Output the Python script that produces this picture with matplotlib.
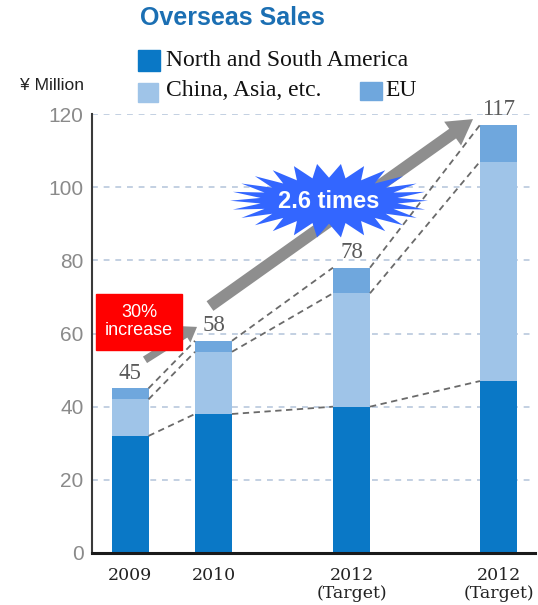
import matplotlib

matplotlib.use("Agg")

import matplotlib.pyplot as plt
import numpy as np
from matplotlib.patches import Polygon, Rectangle
from matplotlib.transforms import Affine2D, ScaledTranslation

# data (¥ million)
years = ["2009", "2010", "2012\n(Target)", "2012\n(Target)"]
americas = [32, 38, 40, 47]
china_asia = [10, 17, 31, 60]
eu = [3, 3, 7, 10]
totals = [45, 58, 78, 117]

series_names = ["North and South America", "China, Asia, etc.", "EU"]
colors = ["#0a78c6", "#9fc4e8", "#6fa7dd"]

# layout (x in pixels from the y-axis spine)
bar_pos = [38, 121.5, 259.5, 406.5]
bar_w = 37

fig = plt.figure(figsize=(5.38, 6.05), dpi=100)
ax = fig.add_axes([92 / 538, 52 / 605, 443 / 538, 439 / 605])
ax.set_xlim(0, 443)
ax.set_ylim(0, 120)

am = np.array(americas)
ca = np.array(china_asia)
e = np.array(eu)
ax.bar(bar_pos, am, bar_w, color=colors[0], zorder=2)
ax.bar(bar_pos, ca, bar_w, bottom=am, color=colors[1], zorder=2)
ax.bar(bar_pos, e, bar_w, bottom=am + ca, color=colors[2], zorder=2)

# dashed connectors between bar segment tops
levels = [am, am + ca, am + ca + e]
for lv in levels:
    for i in range(len(bar_pos) - 1):
        ax.plot([bar_pos[i] + bar_w / 2, bar_pos[i + 1] - bar_w / 2], [lv[i], lv[i + 1]],
                color="#6a6a6a", lw=1.3, ls=(0, (3.5, 2.5)), zorder=4)

for x, t in zip(bar_pos, totals):
    ax.annotate(str(t), (x, t), xytext=(0, 3.5), textcoords="offset points",
                ha="center", va="bottom", fontsize=16.5, color="#5a5a5a",
                family="Liberation Serif", zorder=5)

ax.set_yticks(range(0, 121, 20))
ax.set_xticks(bar_pos)
ax.set_xticklabels(years, family="DejaVu Serif", fontsize=12.5, linespacing=1.05,
                   color="#222222")
ax.tick_params(axis="x", length=0, pad=10)
ax.tick_params(axis="y", length=0, pad=6, labelsize=15, labelcolor="#8a8a8a")
for lab in ax.get_yticklabels():
    lab.set_family("Liberation Sans")
ax.yaxis.grid(True, color="#c3d0e2", lw=1.4, ls=(0, (3, 3)), zorder=0)
ax.set_axisbelow(True)
for s in ["top", "right"]:
    ax.spines[s].set_visible(False)
ax.spines["left"].set_color("#3a3a3a")
ax.spines["left"].set_linewidth(1.5)
ax.spines["bottom"].set_color("#1a1a1a")
ax.spines["bottom"].set_linewidth(2.2)
ax.spines["bottom"].set_zorder(3)

# gray growth arrows
ax.annotate("", xy=(105, 61.8), xytext=(53, 52.8),
            arrowprops=dict(arrowstyle="simple,head_length=1.0,head_width=1.4,tail_width=0.55",
                            mutation_scale=10, shrinkA=0, shrinkB=0, fc="#8e8e8e", ec="none"),
            zorder=3)
ax.annotate("", xy=(381, 118.6), xytext=(118, 67.5),
            arrowprops=dict(arrowstyle="simple,head_length=1.8,head_width=2.1,tail_width=0.85",
                            mutation_scale=10, shrinkA=0, shrinkB=0, fc="#8e8e8e", ec="none"),
            zorder=3)

# red "30% increase" box
ax.add_patch(Rectangle((4, 55.5), 86, 15.3, color="#ff0000", zorder=6, clip_on=False))
ax.text(47, 63.2, "30%\nincrease", ha="center", va="center", color="white",
        fontsize=13, family="Liberation Sans", linespacing=1.1, zorder=7)

# starburst "2.6 times"
n_spikes = 26
ang = np.linspace(0, 2 * np.pi, 2 * n_spikes, endpoint=False)
rx = np.where(np.arange(2 * n_spikes) % 2 == 0, 99, 69)
ry = np.where(np.arange(2 * n_spikes) % 2 == 0, 37, 23)
star_xy = np.column_stack([rx * np.cos(ang), ry * np.sin(ang)]) * 0.72
star_tr = Affine2D().scale(fig.dpi / 72) + ScaledTranslation(237, 96.3, ax.transData)
ax.add_patch(Polygon(star_xy, closed=True, fc="#3366ff", ec="none", transform=star_tr,
                     zorder=8, clip_on=False))
ax.text(237, 96.0, "2.6 times", ha="center", va="center", color="white", fontsize=17,
        fontweight="bold", family="Liberation Sans", zorder=9)

# title, unit, legend
fig.text(140 / 538, 1 - 18 / 605, "Overseas Sales", fontsize=18, fontweight="bold",
         color="#1b6fb3", family="Liberation Sans", va="center", ha="left")
fig.text(20 / 538, 1 - 85 / 605, "¥ Million", fontsize=12.5, color="#222222",
         family="Liberation Sans", va="center", ha="left")

legend_items = [(138, 50, 22, 21), (138, 83, 20, 19), (360, 82, 22, 18)]
legend_text_at = [(166, 60), (166, 90), (385, 90)]
for (lx, ly, lw, lh), (tx, ty), c, name in zip(legend_items, legend_text_at, colors, series_names):
    fig.patches.append(Rectangle((lx / 538, 1 - (ly + lh) / 605), lw / 538, lh / 605,
                                 color=c, transform=fig.transFigure, figure=fig))
    fig.text(tx / 538, 1 - ty / 605, name, fontsize=17, color="#111111",
             family="Liberation Serif", va="center", ha="left")

fig.savefig("out.png", dpi=100)
